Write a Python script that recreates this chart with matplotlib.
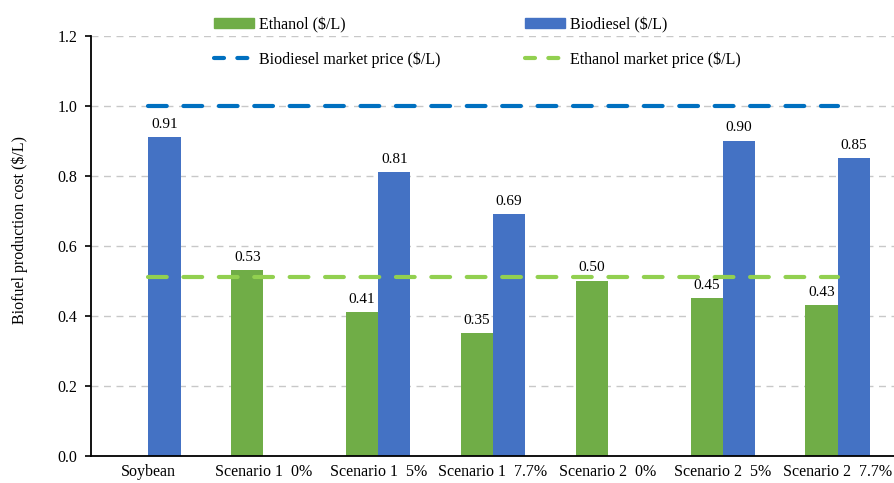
import numpy as np
import matplotlib
matplotlib.use("Agg")
import matplotlib.pyplot as plt
from matplotlib.lines import Line2D
from matplotlib.patches import Patch

plt.rcParams['font.family'] = ['Liberation Serif', 'DejaVu Serif']

categories = ["Soybean", "Scenario 1  0%", "Scenario 1  5%", "Scenario 1  7.7%",
              "Scenario 2  0%", "Scenario 2  5%", "Scenario 2  7.7%"]
ethanol = [None, 0.53, 0.41, 0.35, 0.50, 0.45, 0.43]
biodiesel = [0.91, None, 0.81, 0.69, None, 0.90, 0.85]
biodiesel_price = [1.00, 1.00, 1.00, 1.00, 1.00, 1.00, 1.00]
ethanol_price = [0.51, 0.51, 0.51, 0.51, 0.51, 0.51, 0.51]
yticks = [0.0, 0.2, 0.4, 0.6, 0.8, 1.0, 1.2]

GREEN = "#70AD47"
BLUE = "#4472C4"
LINE_BLUE = "#0070C0"
LINE_GREEN = "#92D050"

fig = plt.figure(figsize=(8.95, 4.83), dpi=100)
ax = fig.add_axes([0.1017, 0.0559, 0.8983, 0.8696])

x = np.arange(len(categories))
w = 0.28

for xi, v in zip(x, ethanol):
    if v is not None:
        ax.bar(xi - w / 2, v, w, color=GREEN, zorder=2)
        ax.annotate(f"{v:.2f}", (xi - w / 2, v), xytext=(0, 5), textcoords="offset points",
                    ha="center", va="bottom", fontsize=11)
for xi, v in zip(x, biodiesel):
    if v is not None:
        ax.bar(xi + w / 2, v, w, color=BLUE, zorder=2)
        ax.annotate(f"{v:.2f}", (xi + w / 2, v), xytext=(0, 5), textcoords="offset points",
                    ha="center", va="bottom", fontsize=11)

ax.plot(x, biodiesel_price, color=LINE_BLUE, lw=3, ls=(0, (4.5, 4)),
        dash_capstyle="round", zorder=3)
ax.plot(x, ethanol_price, color=LINE_GREEN, lw=3, ls=(0, (4.5, 4)),
        dash_capstyle="round", zorder=3)

ax.set_xlim(-0.5, len(categories) - 0.5)
ax.set_ylim(0, 1.2)
ax.set_yticks(yticks)
ax.set_yticklabels([f"{t:.1f}" for t in yticks], fontsize=11.5)
ax.set_xticks(x)
ax.set_xticklabels(categories, fontsize=11.5)
ax.tick_params(axis="x", length=0, pad=6)
ax.tick_params(axis="y", length=4, width=1.2, direction="out", pad=6)
ax.grid(axis="y", color="#C8C8C8", ls=(0, (5, 4)), lw=1, zorder=0)
for s in ["top", "right"]:
    ax.spines[s].set_visible(False)
ax.spines["left"].set_linewidth(1.3)
ax.spines["bottom"].set_linewidth(1.3)
ax.set_ylabel("Biofuel production cost (\\$/L)", fontsize=11.5)
ax.yaxis.set_label_coords(-0.079, 0.538)

# Legend entries ordered so that the two-column layout reads row by row
handles = [
    Patch(color=GREEN, label="Ethanol (\\$/L)"),
    Line2D([], [], color=LINE_BLUE, lw=3, ls=(0, (2.4, 3.2)), dash_capstyle="round",
           label="Biodiesel market price (\\$/L)"),
    Patch(color=BLUE, label="Biodiesel (\\$/L)"),
    Line2D([], [], color=LINE_GREEN, lw=3, ls=(0, (2.4, 3.2)), dash_capstyle="round",
           label="Ethanol market price (\\$/L)"),
]
fig.legend(handles=handles, ncol=2, loc="upper left", bbox_to_anchor=(0.223, 0.995),
           frameon=False, fontsize=11.5, handlelength=2.5, handleheight=0.6,
           handletextpad=0.3, columnspacing=5.3, labelspacing=1.15)

fig.savefig("out.png", dpi=100)
